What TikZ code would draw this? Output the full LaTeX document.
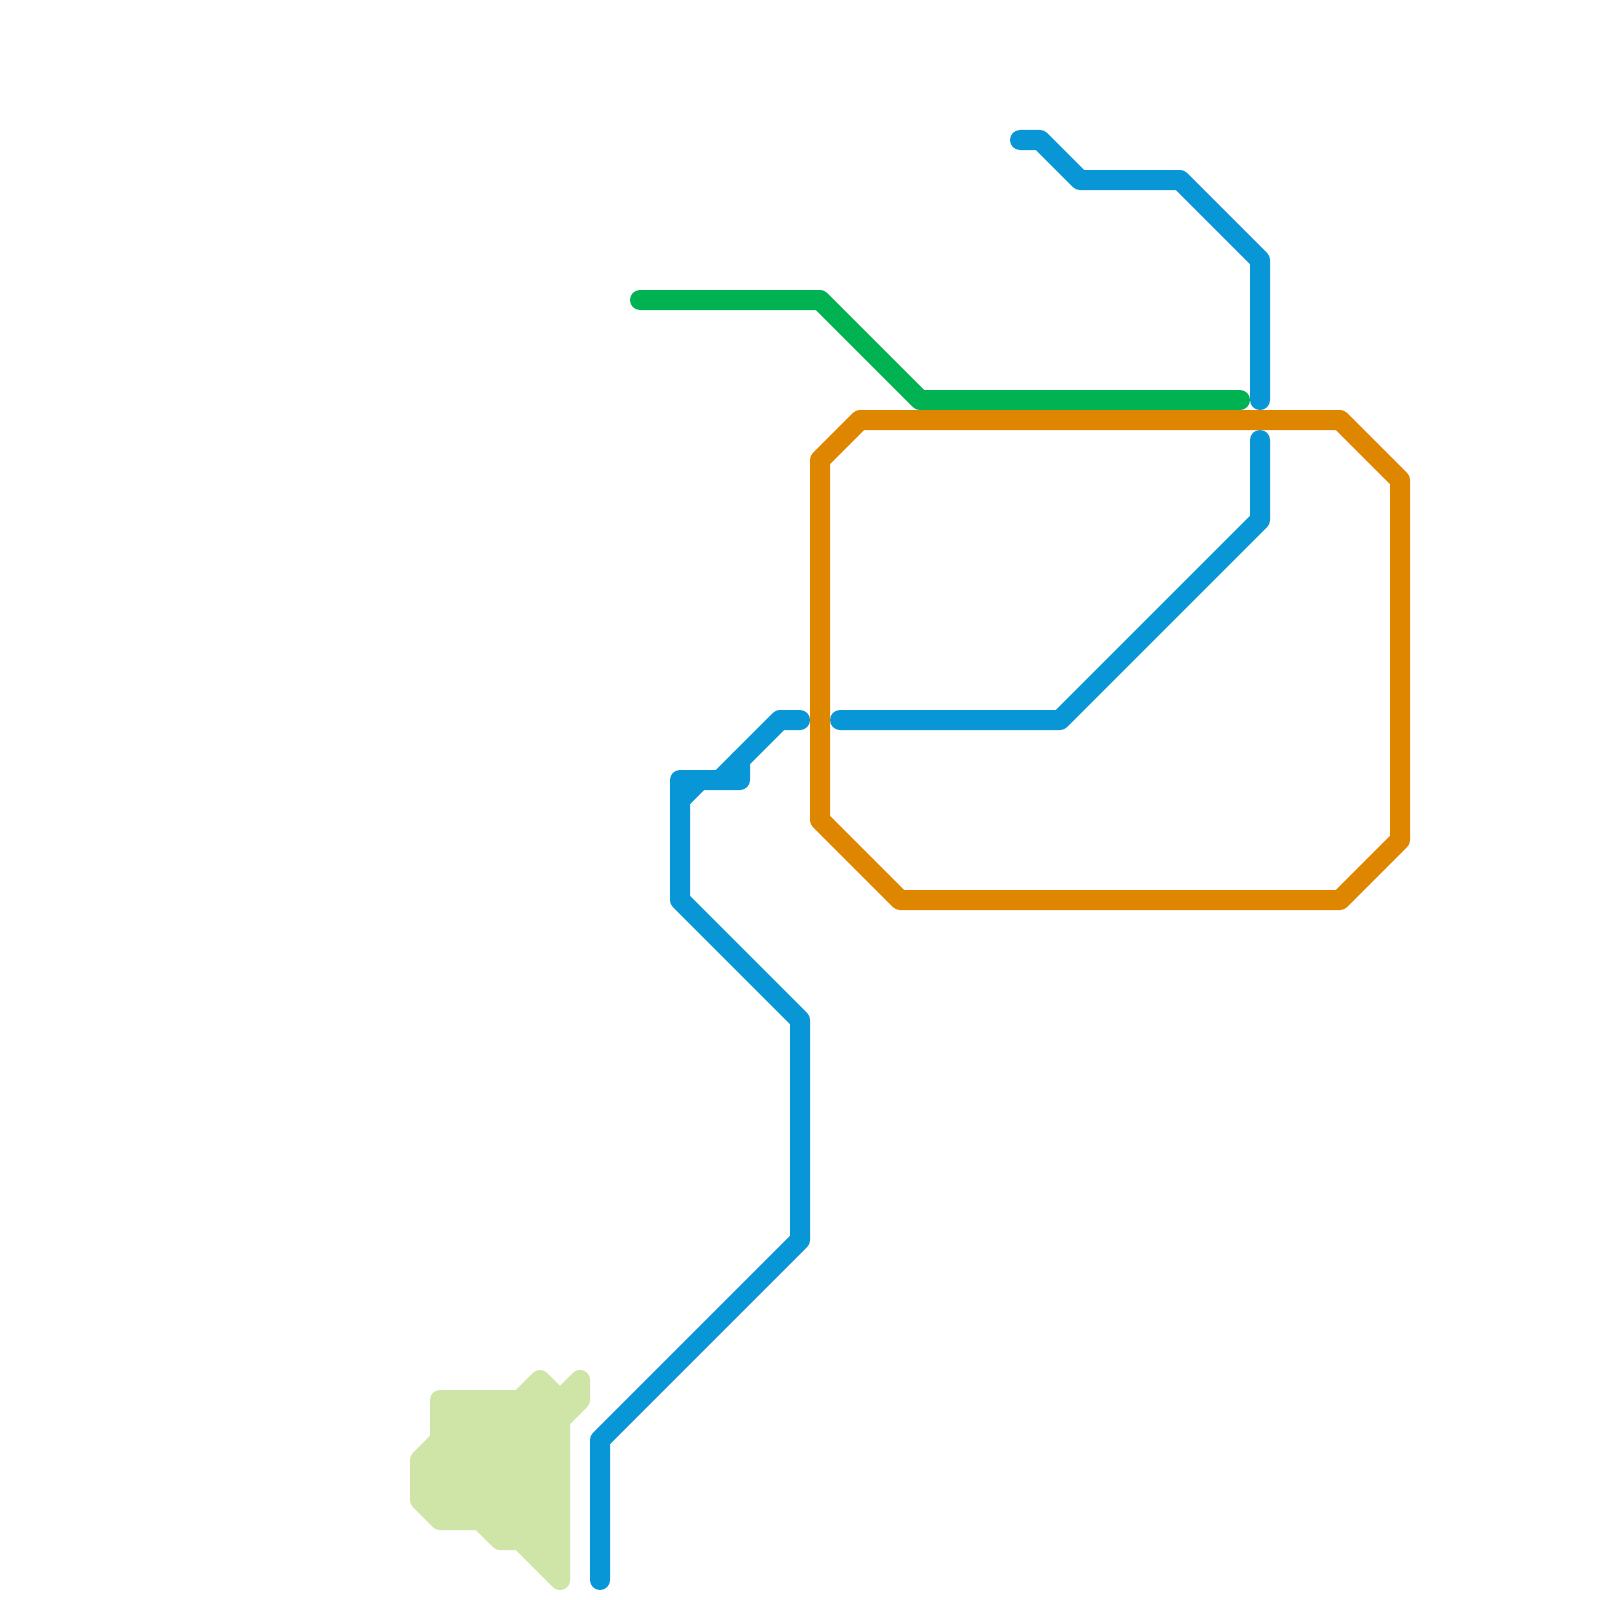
\documentclass[tikz,border=0pt]{standalone}
\definecolor{lineblue}{HTML}{0896D7}
\definecolor{lineorange}{HTML}{DF8600}
\definecolor{linegreen}{HTML}{00B251}
\definecolor{palegreen}{HTML}{CFE4A7}
\tikzset{metro/.style={line width=20pt,line cap=round,line join=round}}
\begin{document}
\begin{tikzpicture}[x=1pt,y=-1pt]
\path[use as bounding box] (0,0) rectangle (1600,1600);
\fill[white] (0,0) rectangle (1600,1600);
% pale area
\filldraw[metro,draw=palegreen,fill=palegreen] (440,1400) -- (520,1400) -- (540,1380) -- (560,1400) -- (580,1380) -- (580,1400) -- (560,1420) -- (560,1580) -- (520,1540) -- (500,1540) -- (480,1520) -- (440,1520) -- (420,1500) -- (420,1460) -- (440,1440) -- cycle;
% blue
\draw[metro,lineblue] (1020,140) -- (1040,140) -- (1080,180) -- (1180,180) -- (1260,260) -- (1260,400);
\draw[metro,lineblue] (1260,440) -- (1260,520) -- (1060,720) -- (840,720);
\draw[metro,lineblue] (800,720) -- (780,720) -- (720,780);
\draw[metro,lineblue] (740,760) -- (740,780) -- (680,780) -- (680,900) -- (800,1020) -- (800,1240) -- (600,1440) -- (600,1580);
\draw[metro,lineblue] (700,780) -- (680,800);
% green
\draw[metro,linegreen] (640,300) -- (820,300) -- (920,400) -- (1240,400);
% orange
\draw[metro,lineorange] (860,420) -- (1340,420) -- (1400,480) -- (1400,840) -- (1340,900) -- (900,900) -- (820,820) -- (820,460) -- cycle;
\end{tikzpicture}
\end{document}
